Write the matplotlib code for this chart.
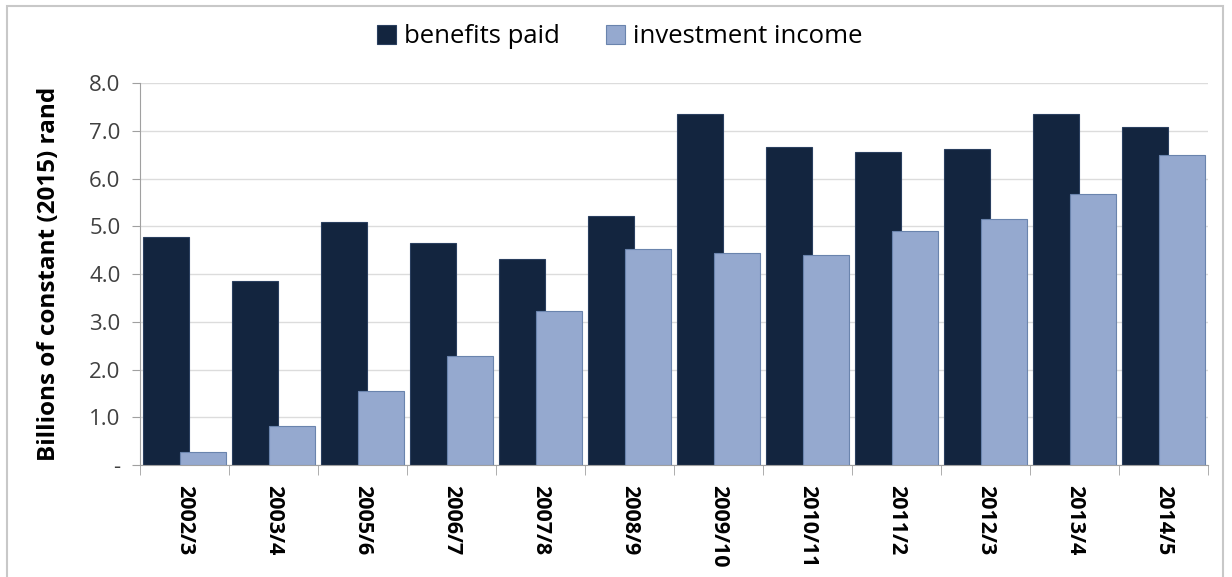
import numpy as np
import matplotlib
matplotlib.use('Agg')
import matplotlib.pyplot as plt
from matplotlib.patches import Rectangle

#Data#
years=['2002/3','2003/4','2005/6','2006/7','2007/8','2008/9','2009/10','2010/11','2011/2','2012/3','2013/4','2014/5']
benefits=[4.77,3.85,5.09,4.65,4.31,5.21,7.35,6.66,6.55,6.62,7.35,7.08]
investment=[0.27,0.82,1.55,2.28,3.23,4.52,4.44,4.40,4.90,5.15,5.68,6.49]
#/Data#

plt.rcParams['font.family']=['Open Sans','DejaVu Sans']

fig=plt.figure(figsize=(12.32,5.77),dpi=100)
ax=fig.add_axes([0.1136,0.194,0.867,0.662])

x=np.arange(len(years))
w=0.52;off=0.21
ax.bar(x-off,benefits,w,color='#13253f',edgecolor='#2a3f5f',linewidth=0.8,label='benefits paid',zorder=2)
ax.bar(x+off,investment,w,color='#95a9cf',edgecolor='#6a84ad',linewidth=0.8,label='investment income',zorder=3)

ax.set_xlim(-0.5,len(years)-0.5)
ax.set_ylim(0,8)
ax.set_yticks(np.arange(0,8.1,1))
ax.set_yticklabels(['-']+['%.1f'%v for v in np.arange(1,8.1,1)],fontsize=16,color='#404040')
ax.yaxis.grid(True,color='#dcdcdc',linewidth=1,zorder=0)
ax.set_axisbelow(True)

ax.set_xticks(x)
ax.set_xticklabels(years,rotation=270,fontsize=15.5,fontweight='bold',color='#000000')
ax.tick_params(axis='x',length=0,pad=14)
ax.set_xticks(np.arange(-0.5,len(years)),minor=True)
ax.tick_params(axis='x',which='minor',length=7,color='#a0a0a0',direction='out')
ax.tick_params(axis='y',length=6,color='#a0a0a0',direction='out',pad=8)

for s in ['top','right']:ax.spines[s].set_visible(False)
for s in ['left','bottom']:ax.spines[s].set_color('#a0a0a0')

ax.set_ylabel('Billions of constant (2015) rand',fontsize=17.5,fontweight='bold',labelpad=20)

h,l=ax.get_legend_handles_labels()
fig.legend(h,l,loc='center',bbox_to_anchor=(0.503,0.936),ncol=2,frameon=False,fontsize=18.5,
           handlelength=0.75,handleheight=0.75,handletextpad=0.3,columnspacing=1.8)

fig.patches.append(Rectangle((0.006,-0.01),0.987,1.0,transform=fig.transFigure,fill=False,edgecolor='#c8c8c8',linewidth=1.5))

fig.savefig('out.png',dpi=100)
